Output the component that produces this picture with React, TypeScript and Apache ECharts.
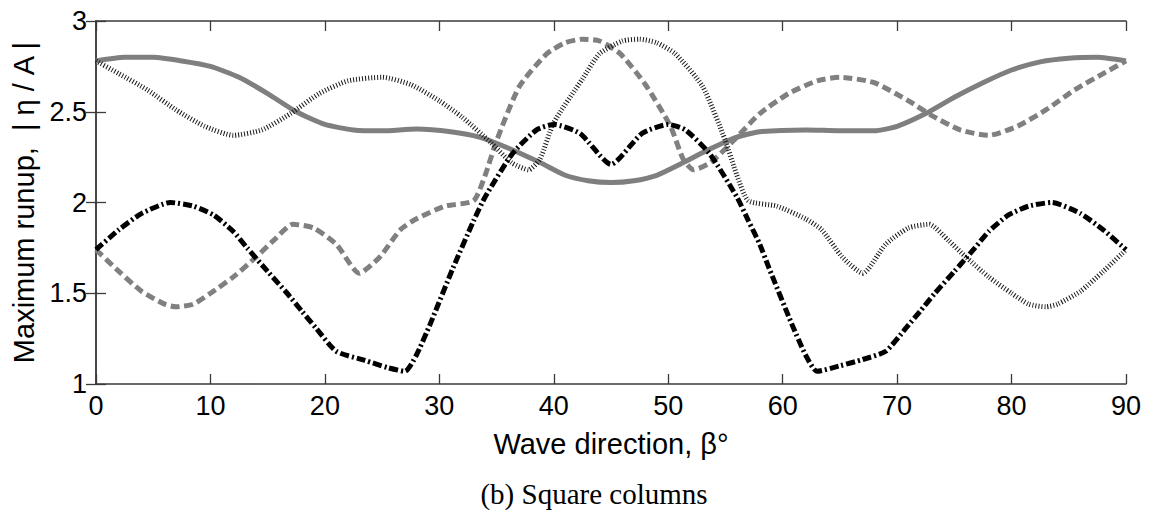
import React, { useEffect, useRef } from "react";
import * as echarts from "echarts";

const xTicks = [0, 10, 20, 30, 40, 50, 60, 70, 80, 90];
const yTicks = [1, 1.5, 2, 2.5, 3];

const solidX = [0, 2.5, 5, 7.5, 10, 12.5, 15, 17.5, 20, 22.5, 25, 28, 31, 33.5, 36, 38.8, 41, 43, 45, 47, 49, 51, 53.5, 56, 58, 62, 65, 68, 70, 72.5, 75, 77.5, 80, 82.5, 85, 87.5, 90];
const solidY = [2.78, 2.8, 2.8, 2.78, 2.75, 2.69, 2.6, 2.5, 2.43, 2.4, 2.395, 2.405, 2.39, 2.36, 2.3, 2.22, 2.15, 2.12, 2.11, 2.12, 2.15, 2.21, 2.29, 2.36, 2.39, 2.4, 2.395, 2.395, 2.42, 2.49, 2.58, 2.66, 2.73, 2.775, 2.795, 2.8, 2.78];

const dashedX = [0, 2, 4, 6, 7, 8.5, 10, 12, 14, 15.5, 17.2, 19, 21, 23, 24.8, 26.6, 28, 30.5, 33, 34, 35, 37, 39.4, 41, 42.5, 44, 45.8, 48, 50.2, 51.3, 52.2, 53.7, 56, 58, 60.5, 63, 65, 68, 71, 73, 75.5, 78, 80.5, 83, 85.5, 88, 90];
const dashedY = [1.74, 1.62, 1.51, 1.44, 1.425, 1.44, 1.5, 1.59, 1.7, 1.79, 1.88, 1.86, 1.77, 1.61, 1.7, 1.85, 1.91, 1.98, 2.01, 2.15, 2.34, 2.64, 2.82, 2.88, 2.9, 2.89, 2.82, 2.65, 2.42, 2.24, 2.18, 2.22, 2.36, 2.49, 2.6, 2.67, 2.69, 2.66, 2.56, 2.48, 2.4, 2.37, 2.42, 2.51, 2.62, 2.71, 2.78];

const dottedX = [0, 2, 4.5, 7, 9.5, 12, 14.5, 17, 19.5, 22, 25, 27.5, 30, 32, 34.5, 36.3, 37.8, 38.8, 40, 42.5, 44, 46, 47.5, 49, 50.6, 53, 55, 56, 57, 59.5, 62, 63.4, 65.2, 67, 69, 71, 72.8, 74.5, 76, 78, 80, 81.5, 83, 84, 86, 88, 90];
const dottedY = [2.78, 2.71, 2.62, 2.51, 2.42, 2.37, 2.4, 2.49, 2.6, 2.67, 2.69, 2.65, 2.56, 2.47, 2.33, 2.22, 2.18, 2.24, 2.44, 2.68, 2.82, 2.89, 2.9, 2.88, 2.82, 2.64, 2.34, 2.15, 2.01, 1.98, 1.91, 1.85, 1.7, 1.61, 1.77, 1.86, 1.88, 1.79, 1.7, 1.59, 1.5, 1.44, 1.425, 1.44, 1.51, 1.62, 1.74];

const dashDotX = [0, 2, 4, 6.5, 8.5, 10.3, 12, 13.2, 15, 16.7, 18, 19.2, 21, 23.5, 25.5, 27, 28, 29.2, 31.2, 33, 34, 36.4, 38.5, 40, 42.3, 45, 47.7, 50, 51.5, 53.6, 56, 57, 58, 58.8, 60.8, 62, 63, 65, 67, 69, 70.8, 72, 73.3, 75, 76.8, 78, 79.7, 81.5, 83.5, 86, 88, 90];
const dashDotY = [1.74, 1.85, 1.94, 2.0, 1.98, 1.93, 1.84, 1.75, 1.62, 1.5, 1.4, 1.31, 1.18, 1.13, 1.09, 1.07, 1.16, 1.33, 1.64, 1.9, 2.03, 2.27, 2.4, 2.43, 2.38, 2.21, 2.38, 2.43, 2.4, 2.27, 2.03, 1.9, 1.77, 1.64, 1.33, 1.16, 1.07, 1.1, 1.135, 1.18, 1.31, 1.4, 1.5, 1.62, 1.75, 1.84, 1.93, 1.98, 2.0, 1.94, 1.85, 1.74];

const xTitle = "Wave direction, β°";
const yTitle = "Maximum runup,  | η / A |";
const caption = "(b) Square columns";

const pairs = (xs: number[], ys: number[]) => xs.map((x, i) => [x, ys[i]]);

export default function App() {
  const ref = useRef<HTMLDivElement>(null);
  useEffect(() => {
    if (!ref.current) return;
    const chart = echarts.init(ref.current, null, { renderer: "svg" });
    const font = "'Liberation Sans', Arial, sans-serif";
    const axisLine = { show: true, lineStyle: { color: "#3a3a3a", width: 1.5 } };
    const tick = { show: true, inside: true, length: 10, lineStyle: { color: "#3a3a3a", width: 1.3 } };
    const common = { splitLine: { show: false }, axisLine, axisTick: tick };
    chart.setOption({
      animation: false,
      backgroundColor: "#ffffff",
      grid: { left: 96, right: 25, top: 21, bottom: 126, containLabel: false },
      xAxis: [
        {
          type: "value", min: 0, max: 90, interval: 10, position: "bottom", ...common,
          axisLabel: { color: "#000", fontSize: 27, fontFamily: font, margin: 8, formatter: (v: number) => (xTicks.includes(v) ? String(v) : "") },
          name: xTitle, nameLocation: "middle", nameGap: 45,
          nameTextStyle: { color: "#000", fontSize: 29, fontFamily: font },
        },
        { type: "value", min: 0, max: 90, interval: 10, position: "top", ...common, axisLabel: { show: false } },
      ],
      yAxis: [
        {
          type: "value", min: 1, max: 3, interval: 0.5, position: "left", ...common,
          axisLabel: { color: "#000", fontSize: 27, fontFamily: font, margin: 9, formatter: (v: number) => (yTicks.includes(v) ? String(v) : "") },
          name: yTitle, nameLocation: "middle", nameGap: 58,
          nameTextStyle: { color: "#000", fontSize: 29, fontFamily: font },
        },
        { type: "value", min: 1, max: 3, interval: 0.5, position: "right", ...common, axisLabel: { show: false } },
      ],
      graphic: [
        {
          type: "text", x: 594, y: 479,
          style: { text: caption, fontSize: 29, fontFamily: "'Liberation Serif', serif", fill: "#000", textAlign: "center" },
        },
      ],
      series: [
        { type: "line", data: pairs(solidX, solidY), smooth: 0.2, symbol: "none", lineStyle: { color: "#7f7f7f", width: 5 } },
        { type: "line", data: pairs(dashedX, dashedY), smooth: 0.2, symbol: "none", lineStyle: { color: "#808080", width: 5, type: [9, 4.5] } },
        { type: "line", data: pairs(dottedX, dottedY), smooth: 0.2, symbol: "none", lineStyle: { color: "#1a1a1a", width: 5, type: [1, 2] } },
        { type: "line", data: pairs(dashDotX, dashDotY), smooth: 0.2, symbol: "none", lineStyle: { color: "#000", width: 5, type: [9, 3, 2, 3] } },
      ],
    });
    return () => chart.dispose();
  }, []);
  return <div ref={ref} style={{ position: "fixed", left: 0, top: 0, width: 1151, height: 510 }} />;
}
